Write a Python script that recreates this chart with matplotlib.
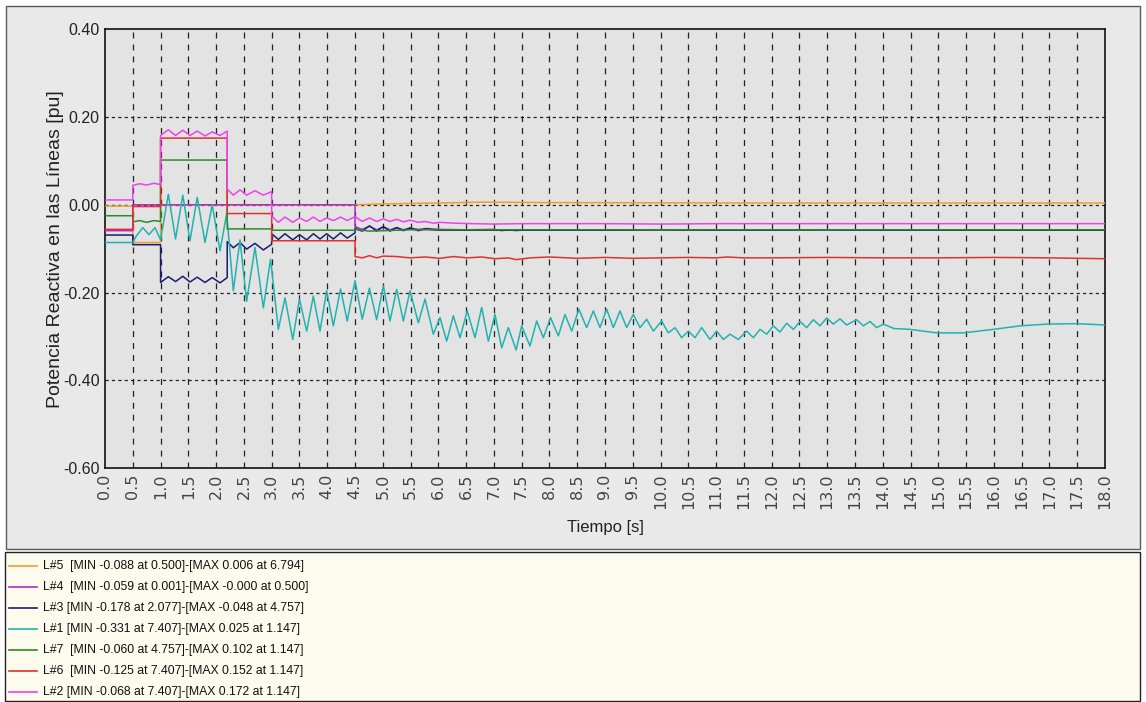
import matplotlib
matplotlib.use('Agg')
import matplotlib.pyplot as plt
from matplotlib.patches import Rectangle
from matplotlib.lines import Line2D
from matplotlib import font_manager

# ---------------- data ----------------
L5_t = [0, 0.5, 0.5, 1.0, 1.0, 4.5, 5.0, 6.0, 6.8, 8.0, 12.0, 18.0]
L5_v = [-0.003, -0.003, -0.086, -0.086, 0.0, 0.0, 0.002, 0.004, 0.006, 0.005, 0.004, 0.004]

L4_t = [0, 0.5, 0.5, 4.5, 4.5, 4.63, 4.76, 4.89, 5.01, 5.13, 5.25, 5.37, 5.49, 5.64,
        5.8, 6.0, 6.5, 7.0, 7.14, 7.26, 7.40, 7.55, 7.8, 8.5, 9.5, 10.0, 10.3, 11.0,
        12.0, 12.5, 13.5, 14.5, 15.0, 18.0]
L4_v = [-0.059, -0.059, 0.0, 0.0, -0.050, -0.056, -0.049, -0.057, -0.050, -0.057,
        -0.052, -0.057, -0.053, -0.056, -0.054, -0.056, -0.057, -0.056, -0.059, -0.057,
        -0.059, -0.057, -0.058, -0.057, -0.058, -0.057, -0.058, -0.057, -0.058, -0.057,
        -0.058, -0.058, -0.057, -0.057]

L3_t = [0, 0.5, 0.5, 1.0, 1.0, 1.14, 1.27, 1.40, 1.53, 1.66, 1.80, 1.93, 2.07, 2.2,
        2.2, 2.31, 2.43, 2.55, 2.70, 2.85, 3.0, 3.0, 3.12, 3.24, 3.38, 3.50, 3.63,
        3.75, 3.87, 3.99, 4.11, 4.24, 4.36, 4.5, 4.5, 4.63, 4.76, 4.89, 5.01, 5.13,
        5.25, 5.37, 5.49, 5.64, 5.76, 6.0, 7.0, 8.0, 9.0, 10.0, 11.0, 12.0, 13.0,
        14.0, 18.0]
L3_v = [-0.069, -0.069, -0.091, -0.091, -0.177, -0.164, -0.175, -0.163, -0.176,
        -0.165, -0.177, -0.166, -0.178, -0.166, -0.084, -0.098, -0.086, -0.101,
        -0.088, -0.103, -0.090, -0.066, -0.079, -0.066, -0.080, -0.068, -0.080,
        -0.066, -0.078, -0.066, -0.078, -0.064, -0.076, -0.064, -0.054, -0.060,
        -0.048, -0.060, -0.050, -0.060, -0.052, -0.059, -0.053, -0.059, -0.055,
        -0.058, -0.058, -0.058, -0.058, -0.057, -0.058, -0.058, -0.057, -0.058, -0.058]

L1_t = [0.0, 0.5, 0.56, 0.68, 0.79, 0.90, 1.00, 1.14, 1.27, 1.40, 1.53, 1.66, 1.80,
        1.93, 2.07, 2.19, 2.31, 2.43, 2.55, 2.70, 2.85, 2.98, 3.12, 3.24, 3.38, 3.50,
        3.63, 3.75, 3.87, 3.99, 4.11, 4.24, 4.36, 4.50, 4.63, 4.76, 4.89, 5.01, 5.13,
        5.25, 5.37, 5.49, 5.64, 5.76, 5.91, 6.03, 6.15, 6.27, 6.39, 6.52, 6.66, 6.78,
        6.90, 7.02, 7.14, 7.26, 7.40, 7.50, 7.65, 7.77, 7.89, 8.02, 8.16, 8.28, 8.40,
        8.53, 8.67, 8.79, 8.91, 9.03, 9.15, 9.27, 9.39, 9.51, 9.63, 9.75, 9.87, 10.02,
        10.14, 10.26, 10.38, 10.50, 10.62, 10.74, 10.89, 11.01, 11.13, 11.25, 11.40,
        11.55, 11.67, 11.79, 11.91, 12.03, 12.15, 12.27, 12.39, 12.51, 12.63, 12.75,
        12.87, 12.99, 13.11, 13.23, 13.35, 13.53, 13.65, 13.77, 13.89, 14.01, 14.20,
        14.49, 14.97, 15.45, 15.99, 16.47, 16.95, 17.49, 18.00]
L1_v = [-0.086, -0.086, -0.072, -0.052, -0.068, -0.052, -0.080, 0.024, -0.078, 0.022,
        -0.082, 0.017, -0.086, 0.000, -0.105, -0.020, -0.196, -0.080, -0.220, -0.097,
        -0.235, -0.124, -0.284, -0.212, -0.307, -0.215, -0.288, -0.208, -0.288, -0.196,
        -0.276, -0.192, -0.265, -0.173, -0.261, -0.190, -0.262, -0.185, -0.265, -0.193,
        -0.265, -0.196, -0.269, -0.215, -0.295, -0.257, -0.311, -0.253, -0.303, -0.242,
        -0.303, -0.234, -0.311, -0.250, -0.326, -0.280, -0.331, -0.276, -0.322, -0.265,
        -0.303, -0.257, -0.299, -0.250, -0.288, -0.238, -0.280, -0.242, -0.280, -0.238,
        -0.280, -0.242, -0.280, -0.250, -0.280, -0.261, -0.288, -0.265, -0.292, -0.280,
        -0.303, -0.288, -0.303, -0.280, -0.307, -0.288, -0.307, -0.295, -0.307, -0.288,
        -0.303, -0.284, -0.295, -0.276, -0.290, -0.270, -0.284, -0.266, -0.280, -0.262,
        -0.276, -0.258, -0.272, -0.260, -0.274, -0.262, -0.276, -0.266, -0.280, -0.272,
        -0.282, -0.284, -0.292, -0.292, -0.284, -0.276, -0.272, -0.271, -0.274]

L7_t = [0, 0.5, 0.5, 0.62, 0.75, 0.88, 1.0, 1.0, 2.2, 2.2, 3.0, 3.0, 4.5, 4.5, 4.76,
        5.5, 8.0, 12.0, 18.0]
L7_v = [-0.025, -0.025, -0.039, -0.036, -0.040, -0.036, -0.038, 0.102, 0.102, -0.055,
        -0.055, -0.058, -0.058, -0.056, -0.060, -0.057, -0.057, -0.057, -0.057]

L6_t = [0, 0.5, 0.5, 1.0, 1.0, 2.2, 2.2, 3.0, 3.0, 4.5, 4.5, 4.63, 4.76, 4.89, 5.01,
        5.25, 5.49, 5.76, 6.03, 6.27, 6.52, 6.78, 7.02, 7.26, 7.40, 7.65, 8.0, 8.5,
        9.0, 9.5, 10.0, 10.5, 11.0, 11.2, 11.5, 12.0, 13.0, 14.0, 15.0, 16.0, 17.0, 18.0]
L6_v = [-0.056, -0.056, -0.004, -0.004, 0.152, 0.152, -0.020, -0.020, -0.082, -0.082,
        -0.118, -0.121, -0.116, -0.121, -0.117, -0.118, -0.121, -0.119, -0.122, -0.118,
        -0.121, -0.119, -0.123, -0.121, -0.125, -0.121, -0.119, -0.122, -0.120, -0.122,
        -0.121, -0.120, -0.121, -0.119, -0.121, -0.121, -0.120, -0.121, -0.121, -0.120,
        -0.121, -0.123]

L2_t = [0, 0.5, 0.5, 0.62, 0.75, 0.88, 1.0, 1.0, 1.14, 1.27, 1.40, 1.53, 1.66, 1.80,
        1.93, 2.07, 2.2, 2.2, 2.31, 2.43, 2.55, 2.70, 2.85, 3.0, 3.0, 3.12, 3.24, 3.38,
        3.50, 3.63, 3.75, 3.87, 3.99, 4.11, 4.24, 4.36, 4.5, 4.63, 4.76, 4.89, 5.01,
        5.13, 5.25, 5.37, 5.49, 5.64, 5.76, 5.91, 6.03, 6.3, 6.6, 7.0, 7.5, 8.0, 9.0,
        10.0, 11.0, 12.0, 13.0, 14.0, 15.0, 16.0, 17.0, 18.0]
L2_v = [0.011, 0.011, 0.044, 0.048, 0.045, 0.049, 0.046, 0.158, 0.171, 0.158, 0.170,
        0.158, 0.168, 0.157, 0.166, 0.158, 0.168, 0.036, 0.022, 0.034, 0.022, 0.032,
        0.022, 0.030, -0.026, -0.040, -0.028, -0.040, -0.030, -0.038, -0.028, -0.038,
        -0.030, -0.036, -0.028, -0.036, -0.027, -0.038, -0.030, -0.038, -0.032, -0.038,
        -0.033, -0.039, -0.035, -0.040, -0.038, -0.042, -0.040, -0.042, -0.043, -0.044,
        -0.043, -0.043, -0.043, -0.044, -0.043, -0.043, -0.043, -0.043, -0.043, -0.043,
        -0.043, -0.043]

series_names = ["L#5", "L#4", "L#3", "L#1", "L#7", "L#6", "L#2"]
series_colors = ["#f39c2e", "#b02cc8", "#1c1c70", "#22b2b0", "#2b8a2b", "#e03131", "#f040f0"]
legend_texts = [
    "L#5  [MIN -0.088 at 0.500]-[MAX 0.006 at 6.794]",
    "L#4  [MIN -0.059 at 0.001]-[MAX -0.000 at 0.500]",
    "L#3 [MIN -0.178 at 2.077]-[MAX -0.048 at 4.757]",
    "L#1 [MIN -0.331 at 7.407]-[MAX 0.025 at 1.147]",
    "L#7  [MIN -0.060 at 4.757]-[MAX 0.102 at 1.147]",
    "L#6  [MIN -0.125 at 7.407]-[MAX 0.152 at 1.147]",
    "L#2 [MIN -0.068 at 7.407]-[MAX 0.172 at 1.147]",
]
x_ticks = [i * 0.5 for i in range(37)]
x_tick_labels = [f"{x:.1f}" for x in x_ticks]
y_ticks = [0.40, 0.20, 0.00, -0.20, -0.40, -0.60]
y_tick_labels = ["0.40", "0.20", "0.00", "-0.20", "-0.40", "-0.60"]
x_label = "Tiempo [s]"
y_label = "Potencia Reactiva en las Líneas [pu]"

series_t = [L5_t, L4_t, L3_t, L1_t, L7_t, L6_t, L2_t]
series_v = [L5_v, L4_v, L3_v, L1_v, L7_v, L6_v, L2_v]

# ---------------- fonts ----------------
avail = {f.name for f in font_manager.fontManager.ttflist}
narrow = 'Liberation Sans Narrow' if 'Liberation Sans Narrow' in avail else 'Liberation Sans'
plt.rcParams['font.family'] = ['Liberation Sans', 'DejaVu Sans']
plt.rcParams['lines.scale_dashes'] = False

W, H = 1146, 702
fig = plt.figure(figsize=(W / 100, H / 100), dpi=100, facecolor='white')


def fx(px):
    return px / W


def fy(py):
    return 1 - py / H


# outer grey panel
fig.patches.append(Rectangle((fx(6), fy(549)), fx(1140) - fx(6), fy(6) - fy(549),
                             transform=fig.transFigure, facecolor='#e9e9e9',
                             edgecolor='#5a5a5a', lw=1.0, zorder=-10))
# legend panel
fig.patches.append(Rectangle((fx(5), fy(701)), fx(1140) - fx(5), fy(552) - fy(701),
                             transform=fig.transFigure, facecolor='#fdfaee',
                             edgecolor='#222222', lw=1.0, zorder=-10))

ax = fig.add_axes([fx(105), fy(468), fx(1105) - fx(105), fy(29.3) - fy(468)])
ax.set_zorder(2)
ax.set_facecolor('#e3e3e3')
ax.set_xlim(0, 18)
ax.set_ylim(-0.6, 0.4)

for xv in x_ticks[1:-1]:
    ax.axvline(xv, color='#222222', lw=0.9, ls=(0, (4.3, 4.3)), zorder=1)
for yv in y_ticks[1:-1]:
    ax.axhline(yv, color='#222222', lw=0.9, ls=(0, (2.3, 2.3)), zorder=1)

for t, v, c in zip(series_t, series_v, series_colors):
    ax.plot(t, v, color=c, lw=1.1, zorder=3)

ax.set_xticks(x_ticks)
ax.set_xticklabels(x_tick_labels, rotation=90, fontsize=11.5, family='DejaVu Sans',
                   color='#444444')
ax.set_yticks(y_ticks)
ax.set_yticklabels(y_tick_labels, fontsize=11.5, family=narrow, color='#222222')
ax.tick_params(axis='both', length=0)
ax.tick_params(axis='x', pad=4)
ax.tick_params(axis='y', pad=4)
for s in ax.spines.values():
    s.set_color('#111111')
    s.set_linewidth(1.2)

ax.set_xlabel(x_label, fontsize=12, color='#222222', labelpad=8)
ax.set_ylabel(y_label, fontsize=14, color='#222222')
ax.yaxis.set_label_coords(-0.041, 0.5)

# legend rows
for i, (txt, c) in enumerate(zip(legend_texts, series_colors)):
    yy = 566 + 21 * i
    fig.add_artist(Line2D([fx(9), fx(37)], [fy(yy), fy(yy)], transform=fig.transFigure,
                          color=c, lw=1.2))
    fig.text(fx(43), fy(yy), txt, va='center', ha='left', fontsize=8.8, family=narrow,
             color='#111111')

fig.savefig('out.png', dpi=100, facecolor='white')
